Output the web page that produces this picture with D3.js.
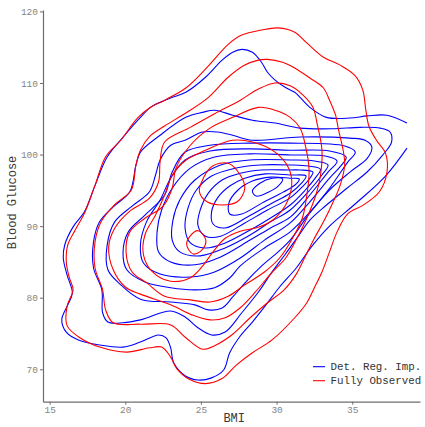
<!DOCTYPE html>
<html>
<head>
<meta charset="utf-8">
<script src="https://cdn.jsdelivr.net/npm/d3@7"></script>
<style>
  body { margin: 0; background: #fff; }
  svg { display: block; font-family: "Courier New", Courier, "Liberation Mono", monospace; }
</style>
</head>
<body>
<script>
// axis settings
var xDomain = [14.56, 39.48];
var yDomain = [65.47, 120.2];
var xTicks = [15, 20, 25, 30, 35];
var yTicks = [70, 80, 90, 100, 110, 120];
var seriesNames = ["Det. Reg. Imp.", "Fully Observed"];
var seriesColors = ["#0000ff", "#ff0000"];

// Det. Reg. Imp. density contours, [BMI, glucose], outermost first
// (the outermost one runs off the right edge, so it is open)
var det1 = [[38.62,104.4],[37.3,105.5],[36.0,105.4],[34.85,105.1],[33.3,105.2],[32.2,106.6],[31.55,108.0],[31.2,108.7],[30.56,109.4],[29.9,110.4],[29.4,111.5],[29.0,112.9],[28.4,114.3],[27.7,114.7],[27.1,114.3],[26.4,113.2],[25.3,110.8],[24.0,108.7],[23.0,107.9],[21.8,106.8],[21.0,105.2],[19.8,102.3],[18.8,99.65],[18.0,95.7],[17.3,92.0],[16.55,89.9],[16.0,87.4],[15.9,85.55],[16.15,83.2],[16.5,80.65],[16.2,79.0],[15.8,76.9],[16.1,75.2],[16.9,74.1],[18.3,73.4],[19.85,73.1],[21.0,73.8],[22.2,74.8],[22.7,74.4],[23.0,73.0],[23.2,70.9],[23.95,69.1],[24.8,68.5],[25.7,68.8],[26.5,69.9],[26.9,72.3],[27.6,74.65],[28.4,76.6],[29.3,79.0],[30.2,81.5],[31.3,84.15],[32.3,87.1],[33.5,90.0],[35.25,93.2],[37.2,97.0],[38.62,100.9]];
var det2 = [[22.3,102.7],[24.0,105.2],[25.1,105.9],[25.9,106.2],[27.1,105.5],[28.4,104.8],[29.9,104.4],[31.55,103.7],[33.7,103.6],[35.5,103.8],[36.85,103.7],[37.5,103.15],[37.6,101.75],[37.0,99.9],[36.0,97.6],[34.65,95.3],[33.3,92.95],[32.2,90.85],[31.4,88.5],[30.55,86.0],[29.7,83.6],[28.8,80.8],[27.7,77.9],[26.6,75.2],[25.7,74.8],[24.8,75.8],[23.95,77.3],[23.0,78.15],[21.0,76.9],[19.85,76.5],[18.85,76.6],[18.5,77.9],[18.45,81.1],[17.9,84.15],[17.9,87.8],[18.3,90.6],[19.2,92.7],[20.3,94.8],[20.7,98.5],[21.0,100.35]];
var det3 = [[23.0,101.3],[23.95,102.0],[25.1,103.15],[26.1,103.15],[27.1,102.7],[28.4,102.0],[31.55,102.45],[34.85,102.3],[35.85,102.0],[36.3,101.05],[36.0,99.5],[34.85,97.55],[33.5,95.05],[32.2,91.85],[30.9,88.05],[30.1,86.4],[29.0,84.4],[27.9,82.05],[27.1,80.1],[26.4,78.55],[25.5,78.3],[24.6,79.0],[23.0,79.4],[21.0,79.8],[19.65,81.9],[18.85,83.9],[18.8,87.35],[19.3,90.6],[20.45,92.8],[21.6,94.8],[22.0,97.15],[22.3,99.25]];
var det4 = [[35.2,100.35],[34.5,101.2],[30.9,101.6],[28.25,101.6],[25.6,101.3],[23.95,100.35],[23.1,97.55],[22.6,94.35],[21.3,91.55],[20.2,89.2],[19.85,86.4],[20.1,83.9],[21.3,82.2],[23.0,81.4],[24.6,81.1],[25.9,81.4],[26.9,82.75],[27.6,84.45],[29.2,86.95],[30.9,89.2],[32.2,91.95],[33.5,95.3],[34.7,98.95]];
var det5 = [[34.6,99.65],[33.5,100.5],[30.9,100.6],[28.25,100.8],[25.6,100.5],[23.95,99.25],[23.0,96.7],[22.3,93.65],[21.4,90.6],[21.0,87.4],[21.2,84.85],[22.3,83.3],[24.3,82.9],[25.9,83.6],[27.6,85.55],[29.2,88.05],[30.9,90.45],[32.2,93.4],[33.5,96.7],[34.3,98.55]];
var det6 = [[34.0,99.1],[33.2,99.8],[30.9,99.95],[28.25,100.1],[25.9,99.65],[24.3,98.1],[23.1,95.3],[22.4,92.25],[22.1,89.2],[22.2,86.4],[23.0,85.0],[24.6,84.6],[26.3,85.7],[28.25,88.05],[29.6,89.75],[30.9,91.25],[32.2,94.35],[33.4,97.55]];
var det7 = [[33.4,98.55],[32.5,99.1],[30.9,99.25],[28.25,99.25],[26.3,98.55],[24.6,96.45],[23.6,93.65],[23.15,90.85],[23.1,88.05],[23.6,86.4],[24.95,85.85],[26.6,86.95],[28.25,88.75],[29.6,90.6],[30.9,92.25],[32.2,95.05],[33.0,97.15]];
var det8 = [[32.9,97.95],[32.1,98.4],[30.9,98.55],[28.9,98.55],[27.25,98.1],[25.7,97.0],[24.7,95.05],[24.15,92.55],[23.95,89.75],[24.3,87.65],[25.3,86.95],[26.6,87.65],[28.25,89.45],[29.6,91.15],[30.9,92.95],[31.9,95.05],[32.55,96.7]];
var det9 = [[32.4,97.55],[31.55,97.85],[30.9,97.85],[29.0,97.85],[27.6,97.4],[26.4,96.45],[25.5,94.65],[24.95,92.25],[24.8,90.15],[25.3,88.6],[26.3,88.6],[27.9,90.45],[29.4,92.25],[30.9,93.95],[31.75,95.6],[32.2,96.7]];
var det10 = [[31.95,97.0],[30.9,97.15],[29.25,97.3],[27.9,96.7],[26.9,95.6],[26.1,93.95],[25.7,91.95],[25.8,90.3],[26.6,89.75],[28.1,91.3],[29.6,93.1],[30.9,94.6],[31.6,95.9]];
var det11 = [[31.5,96.6],[30.9,96.7],[29.6,96.85],[28.4,96.3],[27.45,95.05],[26.85,93.25],[26.9,91.7],[27.7,91.7],[29.05,93.25],[30.2,94.5],[30.9,95.3],[31.3,95.9]];
var det12 = [[30.4,96.6],[29.7,96.7],[28.9,96.0],[28.4,94.9],[28.65,94.2],[29.45,94.75],[30.1,95.6]];

// Fully Observed density contours, outermost first
var obs1 = [[25.3,68.0],[26.4,68.7],[27.3,70.5],[28.4,72.3],[29.7,74.1],[31.2,77.2],[32.0,79.3],[32.5,81.4],[33.0,83.6],[33.5,86.4],[34.0,89.2],[34.7,91.7],[35.7,92.9],[36.8,94.8],[37.3,97.6],[37.2,100.2],[36.6,102.0],[36.1,104.0],[35.9,106.2],[35.7,109.0],[35.2,111.0],[34.2,112.5],[33.1,113.6],[32.0,115.6],[31.2,117.1],[30.1,117.7],[29.0,117.4],[27.7,116.7],[26.8,115.4],[25.5,112.4],[24.0,109.3],[22.6,107.6],[21.6,106.5],[20.8,105.1],[19.7,102.0],[18.7,99.7],[18.0,95.7],[17.3,91.8],[16.7,89.5],[16.2,87.4],[16.1,85.0],[16.3,82.8],[16.55,81.1],[16.15,78.8],[16.15,76.1],[17.0,74.4],[18.3,73.1],[20.1,72.4],[21.6,73.0],[22.4,73.1],[23.0,71.7],[23.4,70.1],[24.2,68.65]];
var obs2 = [[22.6,104.0],[24.0,105.8],[25.5,108.0],[26.8,110.8],[27.9,112.5],[28.8,113.2],[29.4,113.3],[30.4,112.9],[31.2,112.1],[32.2,110.7],[33.1,109.3],[33.5,107.6],[33.9,105.5],[34.1,103.4],[34.4,100.6],[34.5,98.5],[34.2,95.7],[33.7,93.2],[33.1,90.6],[32.5,88.3],[31.95,86.0],[31.3,83.3],[30.5,81.1],[29.4,79.3],[28.25,77.2],[27.1,74.9],[25.9,73.3],[25.1,72.8],[24.0,74.4],[23.0,76.2],[21.0,76.3],[19.2,76.5],[18.7,78.3],[18.5,81.1],[18.0,84.15],[18.0,87.8],[18.4,90.6],[19.3,93.0],[20.4,95.05],[20.7,98.5],[21.0,100.6],[21.6,102.5]];
var obs3 = [[22.6,101.75],[24.3,103.8],[25.9,105.7],[27.6,107.6],[28.8,109.15],[29.9,110.0],[30.9,109.6],[31.75,108.3],[32.4,106.6],[32.7,104.1],[33.0,100.6],[32.9,97.1],[32.6,94.35],[31.95,90.9],[31.3,88.1],[30.6,85.55],[29.6,83.3],[28.6,80.8],[27.6,78.6],[26.6,77.2],[25.6,76.9],[24.4,77.6],[23.0,79.0],[21.0,80.5],[20.0,81.5],[19.2,83.9],[18.9,87.1],[19.3,89.7],[20.3,92.1],[21.6,93.9],[22.2,96.2],[22.3,99.0]];
var obs4 = [[30.9,105.2],[31.55,103.7],[31.9,101.3],[32.15,97.8],[32.0,94.35],[31.7,91.1],[31.0,88.1],[30.2,85.55],[29.2,83.6],[27.9,81.8],[26.8,80.2],[25.6,79.4],[24.3,79.7],[22.6,80.2],[21.4,82.1],[20.45,83.6],[20.05,86.4],[20.3,89.2],[21.3,91.1],[22.5,92.8],[23.1,95.3],[23.35,98.1],[24.3,101.3],[25.6,103.7],[27.1,105.2],[28.8,106.6],[29.9,106.2]];
var obs5 = [[25.3,100.6],[27.1,102.0],[28.4,101.75],[29.9,100.35],[30.8,98.1],[31.0,95.7],[30.6,92.95],[29.9,91.1],[28.9,89.9],[27.6,89.3],[26.6,88.3],[25.8,86.4],[25.1,84.4],[24.3,82.8],[23.0,82.3],[21.8,83.6],[21.2,86.0],[21.3,88.8],[22.0,91.55],[22.6,94.35],[23.1,97.1],[24.0,99.2]];
var obs6a = [[25.05,96.2],[25.7,98.3],[26.8,98.8],[27.6,97.15],[27.9,95.3],[27.4,93.4],[26.4,92.95],[25.4,93.4],[24.9,94.8]];
var obs6b = [[24.06,87.36],[24.28,88.6],[24.83,89.36],[25.32,88.06],[25.07,86.67],[24.5,86.1]];

var detClosed = [det2, det3, det4, det5, det6, det7, det8, det9, det10, det11, det12];
var detOpen = [det1];
var obsClosed = [obs1, obs2, obs3, obs4, obs5, obs6a, obs6b];

var W = 425, H = 427;
var svg = d3.select("body").append("svg")
    .attr("width", W)
    .attr("height", H);

var x = d3.scaleLinear().domain(xDomain).range([43, 420]);
var y = d3.scaleLinear().domain(yDomain).range([401.7, 10]);

svg.append("clipPath").attr("id", "panel")
  .append("rect")
    .attr("x", 43).attr("y", 0)
    .attr("width", W - 43).attr("height", 401.7);

var lineOpen = d3.line()
    .x(function(d) { return x(d[0]); })
    .y(function(d) { return y(d[1]); })
    .curve(d3.curveCatmullRom.alpha(0.5));
var lineClosed = d3.line()
    .x(function(d) { return x(d[0]); })
    .y(function(d) { return y(d[1]); })
    .curve(d3.curveCatmullRomClosed.alpha(0.5));

var plot = svg.append("g").attr("clip-path", "url(#panel)")
    .attr("fill", "none")
    .attr("stroke-width", 1.1)
    .attr("stroke-linejoin", "round");

// blue first, red drawn on top
plot.append("g").attr("stroke", seriesColors[0])
  .selectAll("path.open").data(detOpen).enter()
  .append("path").attr("d", lineOpen);
plot.append("g").attr("stroke", seriesColors[0])
  .selectAll("path").data(detClosed).enter()
  .append("path").attr("d", lineClosed);
plot.append("g").attr("stroke", seriesColors[1])
  .selectAll("path").data(obsClosed).enter()
  .append("path").attr("d", lineClosed);

// axes
var xAxis = svg.append("g")
    .attr("transform", "translate(0,401.7)")
    .call(d3.axisBottom(x).tickValues(xTicks).tickSizeInner(3).tickSizeOuter(0).tickPadding(2));
var yAxis = svg.append("g")
    .attr("transform", "translate(43,0)")
    .call(d3.axisLeft(y).tickValues(yTicks).tickSizeInner(3).tickSizeOuter(0).tickPadding(2));

[xAxis, yAxis].forEach(function(a) {
  a.select(".domain").attr("stroke", "#6e6e6e").attr("stroke-width", 1.2);
  a.selectAll(".tick line").attr("stroke", "#6e6e6e");
  a.selectAll(".tick text")
    .attr("fill", "#858585")
    .style("font-family", "\"Courier New\", Courier, \"Liberation Mono\", monospace")
    .style("font-size", "9.5px");
});

svg.append("text")
    .attr("x", x(27.2)).attr("y", 422)
    .attr("text-anchor", "middle")
    .attr("fill", "#3a3a3a")
    .style("font-size", "12px")
    .text("BMI");

svg.append("text")
    .attr("transform", "translate(16," + y(93.3) + ") rotate(-90)")
    .attr("text-anchor", "middle")
    .attr("fill", "#3a3a3a")
    .style("font-size", "12px")
    .text("Blood Glucose");

// legend
var legend = svg.append("g").attr("transform", "translate(313,366.7)");
seriesNames.forEach(function(name, i) {
  var row = legend.append("g").attr("transform", "translate(0," + (i * 14) + ")");
  row.append("line")
      .attr("x1", 0).attr("x2", 12)
      .attr("stroke", seriesColors[i])
      .attr("stroke-width", 1.1);
  row.append("text")
      .attr("x", 17.5).attr("dy", "0.35em")
      .attr("fill", "#333")
      .style("font-size", "10.8px")
      .text(name);
});
</script>
</body>
</html>
